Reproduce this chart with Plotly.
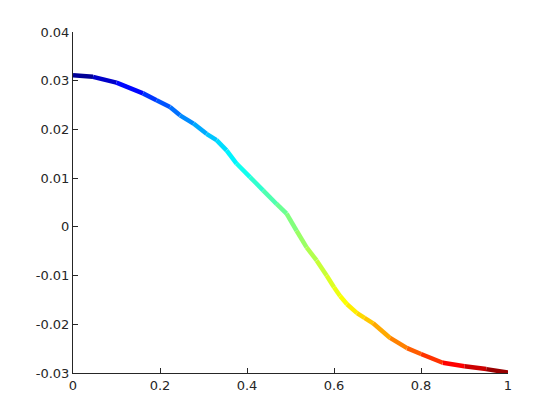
import plotly.graph_objects as go

# Data
x_vals = [0, 0.046, 0.1, 0.161, 0.192, 0.223, 0.246, 0.277, 0.307, 0.330, 0.353, 0.376,
          0.407, 0.437, 0.468, 0.491, 0.514, 0.537, 0.560, 0.583, 0.6, 0.614, 0.63, 0.653,
          0.67, 0.69, 0.729, 0.768, 0.8, 0.85, 0.9, 0.95, 1.0]
y_vals = [0.0311, 0.0308, 0.0296, 0.0274, 0.0260, 0.0246, 0.0229, 0.0212, 0.0191, 0.0178,
          0.0157, 0.0130, 0.0102, 0.0075, 0.0047, 0.0027, -0.0008, -0.0042, -0.0069, -0.0100,
          -0.0124, -0.0142, -0.0159, -0.0177, -0.0187, -0.0198, -0.0228, -0.0249, -0.0261,
          -0.0279, -0.0286, -0.0292, -0.0299]
x_ticks = [0, 0.2, 0.4, 0.6, 0.8, 1]
x_ticklabels = ["0", "0.2", "0.4", "0.6", "0.8", "1"]
y_ticks = [-0.03, -0.02, -0.01, 0, 0.01, 0.02, 0.03, 0.04]
y_ticklabels = ["-0.03", "-0.02", "-0.01", "0", "0.01", "0.02", "0.03", "0.04"]


def jet(t):
    t = min(max(t, 0.0), 1.0)
    def ch(v):
        return max(0.0, min(1.0, v))
    r = ch(1.5 - abs(4 * t - 3))
    g = ch(1.5 - abs(4 * t - 2))
    b = ch(1.5 - abs(4 * t - 1))
    return "rgb(%d,%d,%d)" % (round(r * 255), round(g * 255), round(b * 255))


fig = go.Figure()
for i in range(len(x_vals) - 1):
    t = (x_vals[i] + x_vals[i + 1]) / 2
    fig.add_trace(go.Scatter(
        x=[x_vals[i], x_vals[i + 1]], y=[y_vals[i], y_vals[i + 1]],
        mode="lines", line=dict(color=jet(t), width=4.5),
        showlegend=False, hoverinfo="skip"))

axis_common = dict(
    showgrid=False, zeroline=False, showline=True, linecolor="#262626", linewidth=1,
    ticks="inside", ticklen=5, tickcolor="#262626", mirror=False,
    tickfont=dict(family="DejaVu Sans", size=13, color="#262626"),
)
fig.update_xaxes(range=[0, 1], tickvals=x_ticks, ticktext=x_ticklabels, **axis_common)
fig.update_yaxes(range=[-0.03, 0.04], tickvals=y_ticks, ticktext=y_ticklabels, **axis_common)

fig.update_layout(
    width=544, height=404,
    margin=dict(l=65, r=44, t=24, b=39),
    paper_bgcolor="white", plot_bgcolor="white",
)
fig.write_html("out.html")
